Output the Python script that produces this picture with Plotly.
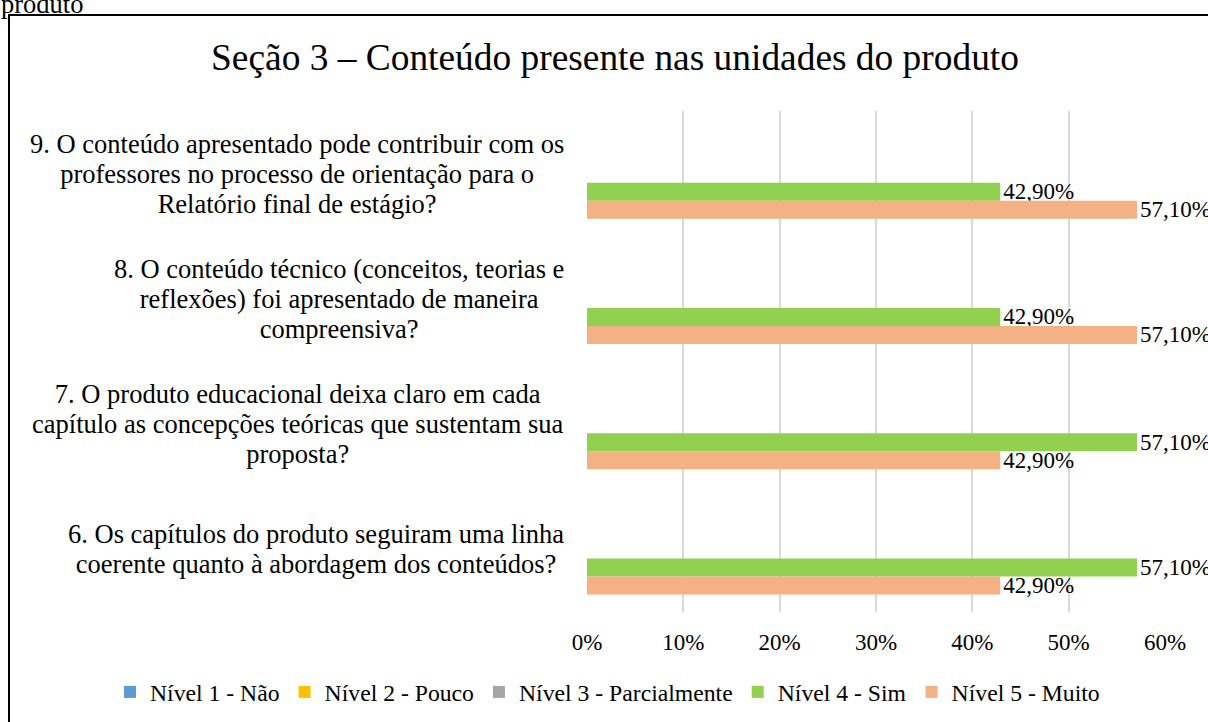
import plotly.graph_objects as go

# ---- data ----
categories = [
    "9. O conteúdo apresentado pode contribuir com os<br>professores no processo de orientação para o<br>Relatório final de estágio?",
    "8. O conteúdo técnico (conceitos, teorias e<br>reflexões) foi apresentado de maneira<br>compreensiva?",
    "7. O produto educacional deixa claro em cada<br>capítulo as concepções teóricas que sustentam sua<br>proposta?",
    "6. Os capítulos do produto seguiram uma linha<br>coerente quanto à abordagem dos conteúdos?",
]
series_names = ["Nível 1 - Não", "Nível 2 - Pouco", "Nível 3 - Parcialmente", "Nível 4 - Sim", "Nível 5 - Muito"]
nivel1 = [0, 0, 0, 0]
nivel2 = [0, 0, 0, 0]
nivel3 = [0, 0, 0, 0]
nivel4 = [0.429, 0.429, 0.571, 0.571]
nivel5 = [0.571, 0.571, 0.429, 0.429]
x_ticks = [0, 0.1, 0.2, 0.3, 0.4, 0.5, 0.6]
title_text = "Seção 3 – Conteúdo presente nas unidades do produto"
caption_text = "produto"

colors = ["#5B9BD5", "#FFC000", "#A5A5A5", "#92D050", "#F4B183"]
show_labels = [False, False, False, True, True]
FONT = "Liberation Serif, Times New Roman, serif"

W, H = 1208, 722
L, R, T, B = 587, 43, 111, 110
pw = W - L - R
ph = H - T - B

def px_x(x):
    return (x - L) / pw

def px_y(y):
    return (H - B - y) / ph

fig = go.Figure()
for name, vals, col, lab in zip(series_names, [nivel1, nivel2, nivel3, nivel4, nivel5], colors, show_labels):
    fig.add_trace(go.Bar(
        y=categories, x=vals, name=name, orientation="h",
        marker=dict(color=col, line=dict(width=0)),
        texttemplate="%{x:.2%}" if lab else None,
        textposition="outside" if lab else "none",
        textfont=dict(family=FONT, size=23, color="black"),
        constraintext="none", cliponaxis=False,
    ))

# category labels: line spacing from the outer font size (23 -> ~30px), glyphs at 26.5px
for cat in categories:
    styled = "<br>".join('<span style="font-size:26.5px">%s</span>' % line for line in cat.split("<br>"))
    fig.add_annotation(
        text=styled, xref="paper", yref="y", x=px_x(566), y=cat,
        xanchor="right", yanchor="middle", yshift=0, align="center",
        showarrow=False, font=dict(family=FONT, size=23.1, color="black"),
    )

# caption fragment at the top (cut off)
fig.add_annotation(
    text=caption_text, xref="paper", yref="paper", x=px_x(-1), y=px_y(4),
    xanchor="left", yanchor="middle", showarrow=False,
    font=dict(family=FONT, size=26.5, color="black"),
)

# chart border
fig.add_shape(type="rect", xref="paper", yref="paper",
              x0=px_x(9), x1=px_x(1240), y0=px_y(15), y1=px_y(760),
              line=dict(color="black", width=2), fillcolor="rgba(0,0,0,0)", layer="above")

fig.update_layout(
    width=W, height=H,
    margin=dict(l=L, r=R, t=T, b=B, autoexpand=False),
    paper_bgcolor="white", plot_bgcolor="white",
    separators=",.",
    barmode="group", bargap=0.28, bargroupgap=0,
    font=dict(family=FONT, color="black"),
    title=dict(text=title_text, x=615 / W, xanchor="center", y=1 - 57 / H, yanchor="middle",
               font=dict(family=FONT, size=37.4, color="black")),
    showlegend=True,
    legend=dict(orientation="h", x=px_x(110), xanchor="left", y=px_y(692), yanchor="middle",
                font=dict(family=FONT, size=23.7, color="black"), traceorder="normal",
                itemwidth=30, bgcolor="rgba(0,0,0,0)"),
    xaxis=dict(range=[0, 0.6], tickvals=x_ticks, tickformat=".0%", showgrid=True,
               gridcolor="#D9D9D9", gridwidth=1.5, zeroline=False, showline=False,
               ticks="", tickfont=dict(family=FONT, size=23, color="black"),
               ticklabelstandoff=14, fixedrange=True),
    yaxis=dict(autorange="reversed", showticklabels=False, showgrid=False,
               zeroline=False, showline=False, ticks="", fixedrange=True),
)

fig.write_html("out.html", config={"displayModeBar": False},
               post_script="document.body.style.margin='0';document.body.style.overflow='hidden';")
